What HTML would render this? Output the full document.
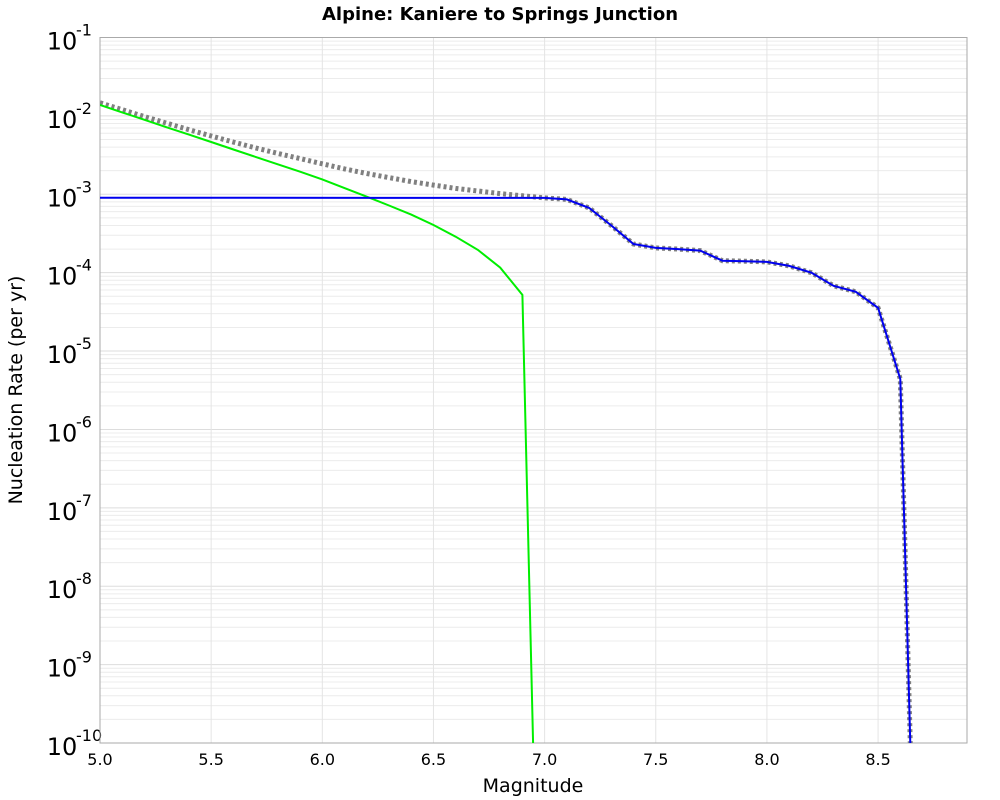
<!DOCTYPE html>
<html><head><meta charset="utf-8">
<style>
body{margin:0;background:#fff;}
svg{display:block;font-family:"DejaVu Sans","Liberation Sans",sans-serif;}
</style></head>
<body>
<svg id="chart" width="1000" height="800" xmlns="http://www.w3.org/2000/svg">
<text x="500" y="20" text-anchor="middle" font-size="18" font-weight="bold">Alpine: Kaniere to Springs Junction</text>
<text x="533" y="792" text-anchor="middle" font-size="19">Magnitude</text>
<text transform="translate(22,390) rotate(-90)" text-anchor="middle" font-size="19">Nucleation Rate (per yr)</text>
<g id="grid"></g>
<g id="axes"></g>
<g id="series"></g>
</svg>
<script>
const greenMags = [5.0,5.1,5.2,5.3,5.4,5.5,5.6,5.7,5.8,5.9,6.0,6.1,6.2,6.3,6.4,6.5,6.6,6.7,6.8,6.9,6.95];
const greenRates = [1.38e-2,1.107e-2,8.91e-3,7.16e-3,5.77e-3,4.64e-3,3.73e-3,3.00e-3,2.41e-3,1.94e-3,1.55e-3,1.20e-3,9.3e-4,7.2e-4,5.5e-4,4.06e-4,2.88e-4,1.95e-4,1.16e-4,5.2e-5,6e-11];
const blueMags = [5.0,7.0,7.1,7.2,7.3,7.4,7.5,7.6,7.7,7.8,7.9,8.0,8.1,8.2,8.3,8.4,8.5,8.6,8.61,8.62,8.63,8.64,8.65];
const blueRates = [9.05e-4,9.0e-4,8.6e-4,6.7e-4,4.0e-4,2.32e-4,2.07e-4,2.0e-4,1.91e-4,1.42e-4,1.40e-4,1.37e-4,1.22e-4,1.0e-4,6.8e-5,5.7e-5,3.55e-5,4.4e-6,4.1e-7,3.8e-8,3.5e-9,3.2e-10,3e-11];
const totalMags = [5.0,5.1,5.2,5.3,5.4,5.5,5.6,5.7,5.8,5.9,6.0,6.1,6.2,6.3,6.4,6.5,6.6,6.7,6.8,6.9,7.0,7.1,7.2,7.3,7.4,7.5,7.6,7.7,7.8,7.9,8.0,8.1,8.2,8.3,8.4,8.5,8.6,8.61,8.62,8.63,8.64,8.65];
const totalRates = [1.47e-2,1.20e-2,9.8e-3,8.07e-3,6.67e-3,5.54e-3,4.63e-3,3.90e-3,3.32e-3,2.85e-3,2.45e-3,2.11e-3,1.84e-3,1.63e-3,1.45e-3,1.31e-3,1.19e-3,1.10e-3,1.02e-3,9.57e-4,9.0e-4,8.6e-4,6.7e-4,4.0e-4,2.32e-4,2.07e-4,2.0e-4,1.91e-4,1.42e-4,1.40e-4,1.37e-4,1.22e-4,1.0e-4,6.8e-5,5.7e-5,3.55e-5,4.4e-6,4.1e-7,3.8e-8,3.5e-9,3.2e-10,3e-11];
const xTicks = [5.0,5.5,6.0,6.5,7.0,7.5,8.0,8.5];
const xTickLabels = ["5.0","5.5","6.0","6.5","7.0","7.5","8.0","8.5"];
const yExps = [-1,-2,-3,-4,-5,-6,-7,-8,-9,-10];

const L=100,R=967,T=37.5,B=743, xMin=5.0,xMax=8.9, yMaxE=-1, yMinE=-10;
const NS="http://www.w3.org/2000/svg";
function xs(m){return L+(m-xMin)/(xMax-xMin)*(R-L);}
function ys(v){return T+(yMaxE-Math.log10(v))/(yMaxE-yMinE)*(B-T);}
function mk(tag,attrs,parent){const e=document.createElementNS(NS,tag);for(const k in attrs)e.setAttribute(k,attrs[k]);parent.appendChild(e);return e;}
const grid=document.getElementById('grid'),axes=document.getElementById('axes'),series=document.getElementById('series');
for(let e=yMaxE;e>yMinE;e--){for(let k=1;k<10;k++){const y=ys(k*Math.pow(10,e-1));
 const ln=mk('line',{x1:L,x2:R,y1:y,y2:y,stroke:k===1?'#dddddd':'#ececec','stroke-width':1},grid);
 
 }}
xTicks.forEach((t,i)=>{const x=xs(t);
 const ln=mk('line',{x1:x,x2:x,y1:T,y2:B,stroke:'#e4e4e4','stroke-width':1},grid);
 
 
 const tx=mk('text',{x:x,y:765,'text-anchor':'middle','font-size':16},axes);tx.textContent=xTickLabels[i];
 
 });
yExps.forEach(e=>{const y=ys(Math.pow(10,e));
 const tx=mk('text',{x:62,y:y+12,'text-anchor':'middle','font-size':24},axes);tx.textContent='10';
 
 
 const sp=mk('text',{x:76,y:y-2,'font-size':16},axes);sp.textContent=String(e);
 
 });
const frame=mk('rect',{x:L,y:T,width:R-L,height:B-T,fill:'none',stroke:'#aaaaaa','stroke-width':1},axes);


const defs=mk('defs',{},series);const cp=mk('clipPath',{id:'clip'},defs);mk('rect',{x:L,y:T,width:R-L,height:B-T},cp);
function line(mags,rates,attrs,name){const pts=mags.map((m,i)=>xs(m).toFixed(1)+','+ys(rates[i]).toFixed(1)).join(' ');
 attrs.points=pts;attrs.fill='none';attrs['clip-path']='url(#clip)';
 const p=mk('polyline',attrs,series);
 
 }
line(totalMags,totalRates,{stroke:'#808080','stroke-width':5,'stroke-dasharray':'3,3'},'total-rate-line');
line(greenMags,greenRates,{stroke:'#00ee00','stroke-width':2},'green-rate-line');
line(blueMags,blueRates,{stroke:'#0000ee','stroke-width':2},'blue-rate-line');
</script>
</body></html>
